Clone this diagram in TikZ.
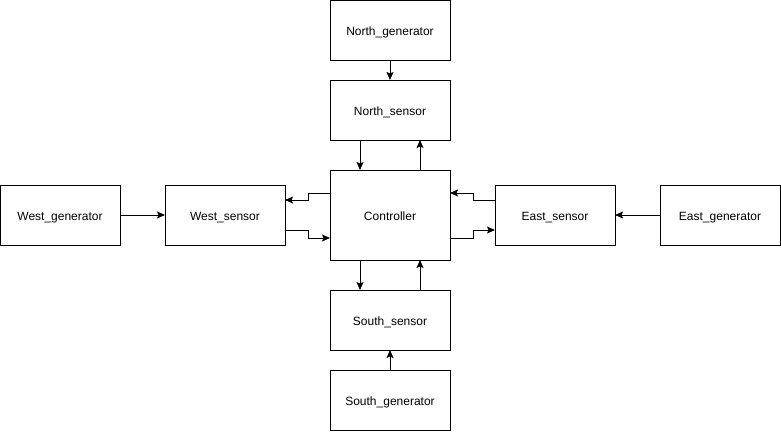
\documentclass[tikz,border=0pt]{standalone}
\usepackage{fontspec}
\setmainfont{Liberation Sans}
\usetikzlibrary{arrows.meta}
\begin{document}
\begin{tikzpicture}[x=1pt,y=-1pt,
  blk/.style={draw=black,line width=1pt,fill=white,minimum width=120pt,minimum height=60pt,inner sep=0pt,outer sep=0pt,text height=11pt,text depth=0pt,font=\fontsize{12}{14}\selectfont},
  arr/.style={draw=black,line width=1pt,-{Stealth[length=8pt,width=7pt,inset=1.5pt]}}]
\useasboundingbox[fill=white] (0,0) rectangle (781,431);
\node[blk] (ng) at (390,30) {North\_generator};
\node[blk] (ns) at (390,110) {North\_sensor};
\node[blk,minimum height=90pt] (ct) at (390,215) {Controller};
\node[blk] (ss) at (390,320) {South\_sensor};
\node[blk] (sg) at (390,400) {South\_generator};
\node[blk] (wg) at (60,215) {West\_generator};
\node[blk] (ws) at (225,215) {West\_sensor};
\node[blk] (es) at (555,215) {East\_sensor};
\node[blk] (eg) at (720,215) {East\_generator};
\draw[arr] (ng) -- (ns);
\draw[arr] ([xshift=-30pt]ns.south) -- ([xshift=-30pt]ct.north);
\draw[arr] ([xshift=30pt]ct.north) -- ([xshift=30pt]ns.south);
\draw[arr] ([xshift=-30pt]ct.south) -- ([xshift=-30pt]ss.north);
\draw[arr] ([xshift=30pt]ss.north) -- ([xshift=30pt]ct.south);
\draw[arr] (sg) -- (ss);
\draw[arr] (wg) -- (ws);
\draw[arr] (eg) -- (es);
\draw[arr] ([yshift=22pt]ct.west) -- ++(-22,0) |- ([yshift=15pt]ws.east);
\draw[arr] ([yshift=-15pt]ws.east) -- ++(23,0) |- ([yshift=-23pt]ct.west);
\draw[arr] ([yshift=15pt]es.west) -- ++(-22,0) |- ([yshift=22pt]ct.east);
\draw[arr] ([yshift=-23pt]ct.east) -- ++(23,0) |- ([yshift=-15pt]es.west);
\end{tikzpicture}
\end{document}
